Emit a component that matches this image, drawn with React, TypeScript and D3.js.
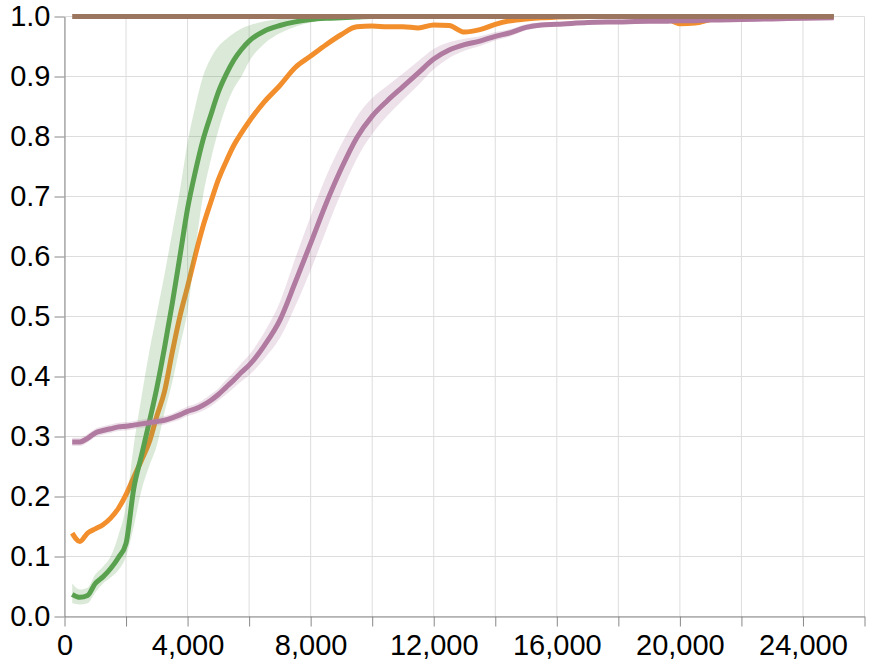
import * as d3 from "d3";
import { useEffect, useRef } from "react";

// shared x positions (steps)
const X = [
  250, 500, 750, 1000,
  1250, 1500, 1750, 2000,
  2250, 2500, 2750, 3000,
  3250, 3500, 3750, 4000,
  4250, 4500, 4750, 5000,
  5250, 5500, 5750, 6000,
  6500, 7000, 7500, 8000,
  8500, 9000, 9500, 10000,
  10500, 11000, 11500, 12000,
  12500, 13000, 13500, 14000,
  14500, 15000, 15500, 16000,
  17000, 18000, 19000, 19500,
  20000, 20500, 21000, 22000,
  23000, 24000, 25000,
];

const green = [
  0.037, 0.032, 0.035, 0.055,
  0.066, 0.08, 0.098, 0.122,
  0.213, 0.268, 0.323, 0.381,
  0.448, 0.521, 0.6, 0.68,
  0.741, 0.794, 0.835, 0.874,
  0.903, 0.927, 0.945, 0.959,
  0.976, 0.985, 0.991, 0.995,
  0.997, 0.998, 0.999, 1,
  1, 1, 1, 1,
  1, 1, 1, 1,
  1, 1, 1, 1,
  1, 1, 1, 1,
  1, 1, 1, 1,
  1, 1, 1,
];

const greenHi = [
  0.055, 0.045, 0.048, 0.07,
  0.083, 0.1, 0.135, 0.185,
  0.285, 0.365, 0.44, 0.505,
  0.57, 0.64, 0.71, 0.79,
  0.85, 0.9, 0.93, 0.95,
  0.962, 0.972, 0.98, 0.985,
  0.992, 0.996, 0.998, 1,
  1, 1, 1, 1,
  1, 1, 1, 1,
  1, 1, 1, 1,
  1, 1, 1, 1,
  1, 1, 1, 1,
  1, 1, 1, 1,
  1, 1, 1,
];

const greenLo = [
  0.022, 0.02, 0.022, 0.04,
  0.055, 0.065, 0.077, 0.1,
  0.15, 0.21, 0.25, 0.285,
  0.34, 0.39, 0.45, 0.51,
  0.61, 0.7, 0.76, 0.81,
  0.85, 0.88, 0.9, 0.925,
  0.955, 0.972, 0.983, 0.99,
  0.995, 0.997, 0.999, 1,
  1, 1, 1, 1,
  1, 1, 1, 1,
  1, 1, 1, 1,
  1, 1, 1, 1,
  1, 1, 1, 1,
  1, 1, 1,
];

const orange = [
  0.139, 0.125, 0.139, 0.146,
  0.153, 0.164, 0.18, 0.203,
  0.232, 0.26, 0.29, 0.334,
  0.375, 0.44, 0.5, 0.55,
  0.602, 0.65, 0.69, 0.728,
  0.758, 0.785, 0.806, 0.825,
  0.858, 0.885, 0.915, 0.934,
  0.953, 0.97, 0.983, 0.984,
  0.983, 0.983, 0.981, 0.986,
  0.985, 0.974, 0.978, 0.987,
  0.993, 0.996, 0.998, 0.999,
  1, 1, 1, 0.998,
  0.988, 0.989, 0.995, 1,
  1, 1, 1,
];

const purple = [
  0.291, 0.291, 0.297, 0.306,
  0.31, 0.313, 0.316, 0.317,
  0.319, 0.321, 0.323, 0.325,
  0.327, 0.331, 0.336, 0.342,
  0.346, 0.352, 0.36, 0.37,
  0.382, 0.394, 0.407, 0.419,
  0.452, 0.494, 0.557, 0.622,
  0.688, 0.747, 0.798, 0.834,
  0.86, 0.883, 0.906, 0.929,
  0.944, 0.953, 0.959, 0.967,
  0.973, 0.982, 0.986, 0.987,
  0.99, 0.991, 0.992, 0.992,
  0.993, 0.993, 0.994, 0.995,
  0.996, 0.997, 0.998,
];

const purpleHi = [
  0.298, 0.298, 0.304, 0.313,
  0.317, 0.32, 0.323, 0.324,
  0.326, 0.328, 0.33, 0.332,
  0.334, 0.338, 0.344, 0.35,
  0.354, 0.361, 0.37, 0.38,
  0.394, 0.407, 0.422, 0.436,
  0.474, 0.524, 0.597, 0.667,
  0.733, 0.787, 0.833, 0.864,
  0.885, 0.905, 0.926, 0.946,
  0.957, 0.963, 0.967, 0.974,
  0.979, 0.987, 0.99, 0.99,
  0.993, 0.994, 0.995, 0.995,
  0.996, 0.996, 0.997, 0.998,
  0.999, 1, 1,
];

const purpleLo = [
  0.284, 0.284, 0.29, 0.299,
  0.303, 0.306, 0.309, 0.31,
  0.312, 0.314, 0.316, 0.318,
  0.32, 0.324, 0.328, 0.334,
  0.338, 0.343, 0.35, 0.36,
  0.37, 0.381, 0.392, 0.402,
  0.43, 0.464, 0.517, 0.577,
  0.643, 0.707, 0.763, 0.804,
  0.835, 0.861, 0.886, 0.912,
  0.931, 0.943, 0.951, 0.96,
  0.967, 0.977, 0.982, 0.984,
  0.987, 0.988, 0.989, 0.989,
  0.99, 0.99, 0.991, 0.992,
  0.993, 0.994, 0.995,
];

const brown = [
  1, 1, 1, 1, 1, 1, 1, 1, 1, 1, 1,
  1, 1, 1, 1, 1, 1, 1, 1, 1, 1, 1,
  1, 1, 1, 1, 1, 1, 1, 1, 1, 1, 1,
  1, 1, 1, 1, 1, 1, 1, 1, 1, 1, 1,
  1, 1, 1, 1, 1, 1, 1, 1, 1, 1, 1,
];

const xTicks = [0, 2000, 4000, 6000, 8000, 10000, 12000, 14000, 16000, 18000, 20000, 22000, 24000, 26000];
const xLabels = [0, 4000, 8000, 12000, 16000, 20000, 24000];
const yTicks = [0, 0.1, 0.2, 0.3, 0.4, 0.5, 0.6, 0.7, 0.8, 0.9, 1.0];

const WIDTH = 882;
const HEIGHT = 666;
const FONT = "'Liberation Sans', Arial, Helvetica, sans-serif";

export default function App() {
  const ref = useRef<SVGSVGElement>(null);

  useEffect(() => {
    const svg = d3.select(ref.current);
    svg.selectAll("*").remove();

    const x = d3.scaleLinear().domain([0, 26000]).range([64.5, 864.5]);
    const y = d3.scaleLinear().domain([0, 1]).range([616.5, 16.5]);

    const grid = svg.append("g");
    grid.selectAll("line.v")
      .data(xTicks)
      .join("line")
      .attr("x1", (d) => x(d))
      .attr("x2", (d) => x(d))
      .attr("y1", y(0))
      .attr("y2", y(1))
      .attr("stroke", "#ddd")
      .attr("stroke-width", 1);
    grid.selectAll("line.h")
      .data(yTicks)
      .join("line")
      .attr("x1", x(0))
      .attr("x2", x(26000))
      .attr("y1", (d) => y(d))
      .attr("y2", (d) => y(d))
      .attr("stroke", "#ddd")
      .attr("stroke-width", 1);

    const xAxis = d3.axisBottom(x)
      .tickValues(xTicks)
      .tickSize(10)
      .tickSizeOuter(0)
      .tickPadding(8)
      .tickFormat((d) => (xLabels.includes(+d) ? d3.format(",")(+d) : ""));
    const yAxis = d3.axisLeft(y)
      .tickValues(yTicks)
      .tickSize(10)
      .tickSizeOuter(0)
      .tickPadding(4)
      .tickFormat(d3.format(".1f"));

    const gx = svg.append("g").attr("transform", `translate(0,${y(0)})`).call(xAxis);
    const gy = svg.append("g").attr("transform", `translate(${x(0)},0)`).call(yAxis);
    [gx, gy].forEach((g) => {
      g.select(".domain").attr("stroke", "#888").attr("stroke-width", 1);
      g.selectAll(".tick line").attr("stroke", "#888");
      g.selectAll(".tick text")
        .attr("fill", "#000")
        .style("font-family", FONT)
        .style("font-size", "29px");
    });

    const idx = d3.range(X.length);
    const line = (vals: number[]) =>
      d3.line<number>()
        .x((i) => x(X[i]))
        .y((i) => y(vals[i]))
        .curve(d3.curveMonotoneX)(idx);
    const band = (lo: number[], hi: number[]) =>
      d3.area<number>()
        .x((i) => x(X[i]))
        .y0((i) => y(lo[i]))
        .y1((i) => y(hi[i]))
        .curve(d3.curveMonotoneX)(idx);

    const marks = svg.append("g");
    const drawLine = (vals: number[], color: string) =>
      marks.append("path")
        .attr("d", line(vals))
        .attr("fill", "none")
        .attr("stroke", color)
        .attr("stroke-width", 5)
        .attr("stroke-linejoin", "round");

    drawLine(orange, "#f28e2b");
    marks.append("path").attr("d", band(greenLo, greenHi)).attr("fill", "#59a14f").attr("opacity", 0.22);
    drawLine(green, "#59a14f");
    marks.append("path").attr("d", band(purpleLo, purpleHi)).attr("fill", "#b07aa1").attr("opacity", 0.22);
    drawLine(purple, "#b07aa1");
    drawLine(brown, "#9c755f");
  }, []);

  return (
    <svg
      ref={ref}
      width={WIDTH}
      height={HEIGHT}
      style={{ position: "absolute", left: 0, top: 0, background: "#fff" }}
    />
  );
}
